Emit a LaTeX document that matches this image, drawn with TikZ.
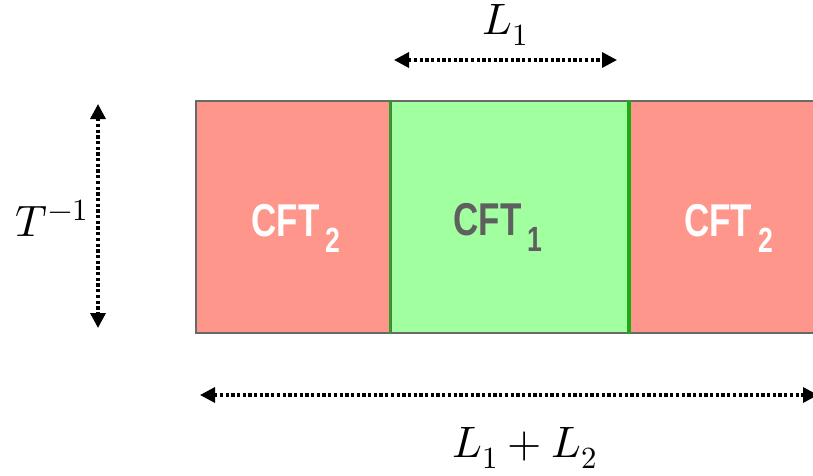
\documentclass[tikz,border=0pt]{standalone}
\usepackage{fontspec}
\usepackage{unicode-math}
\setmathfont{Latin Modern Math}
\usetikzlibrary{arrows.meta}
\newfontfamily\cftfont[FakeStretch=0.76]{Liberation Sans}
\definecolor{cftred}{RGB}{255,150,140}
\definecolor{cftgreen}{RGB}{162,255,160}
\definecolor{edgegrey}{RGB}{105,105,105}
\definecolor{wallgreen}{RGB}{30,170,20}
\definecolor{labgrey}{RGB}{95,95,95}
\tikzset{
  region/.style={rectangle, inner sep=0pt, minimum height=232pt, draw=edgegrey, line width=2pt},
  tip/.style={Triangle[length=15pt,width=15pt]},
  dimarrow/.style={line width=3.3pt, dash pattern=on 3.3pt off 2.4pt, {Triangle[length=15pt,width=15pt]}-{Triangle[length=15pt,width=15pt]}},
  cftlabel/.style={inner sep=0pt, font=\cftfont\bfseries\fontsize{46}{46}\selectfont},
  mathlabel/.style={inner sep=0pt, font=\fontsize{44}{44}\selectfont}
}
\newcommand{\cftsub}[1]{\hspace{6pt}\raisebox{-16pt}{\fontsize{35}{35}\selectfont #1}}
\begin{document}
\begin{tikzpicture}[x=1pt,y=-1pt]
\clip (0,0) rectangle (813,475);
% background outline behind the middle region
\node[region, minimum width=299pt, fill=cftgreen] (outline) at (512.5,217) {};
% regions
\node[region, minimum width=195pt, fill=cftred] (left) at (293.5,217) {};
\node[region, minimum width=202pt, fill=cftred] (right) at (729,217) {};
\node[region, minimum width=237pt, fill=cftgreen] (mid) at (509.5,217) {};
\draw[wallgreen, line width=2.2pt] (mid.north west) -- (mid.south west);
\draw[wallgreen, line width=3.6pt] (mid.north east) -- (mid.south east);
% labels in regions
\node[cftlabel, text=white] (lt) at (296,228) {CFT\cftsub{2}};
\node[cftlabel, text=labgrey] (mt) at (498,227) {CFT\cftsub{1}};
\node[cftlabel, text=white] (rt) at (728.5,228) {CFT\cftsub{2}};
% dimension arrows
\coordinate (t1) at (394,60);
\coordinate (t2) at (617,60);
\draw[dimarrow] (t1) -- (t2);
\node[mathlabel] (L1) at (505,25) {$L_1$};
\coordinate (v1) at (98,104);
\coordinate (v2) at (98,328);
\draw[dimarrow] (v1) -- (v2);
\node[mathlabel] (Tinv) at (52,218) {$T^{-1}$};
\coordinate (b1) at (200,395);
\coordinate (b2) at (818,395);
\draw[dimarrow] (b1) -- (b2);
\node[mathlabel] (L12) at (525,448) {$L_1 + L_2$};
\end{tikzpicture}
\end{document}
